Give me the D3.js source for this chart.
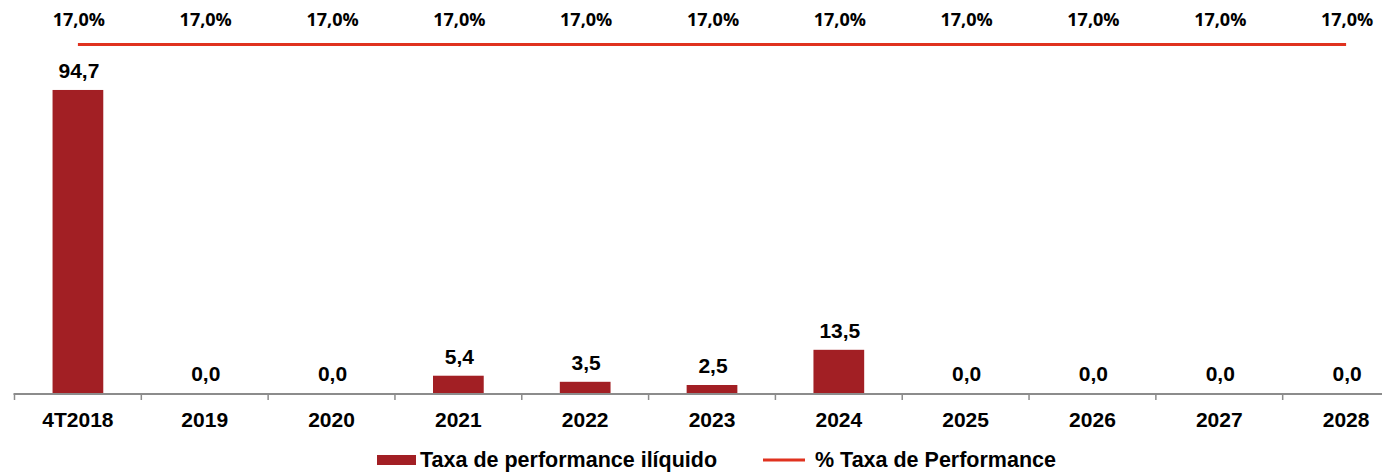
<!DOCTYPE html>
<html>
<head>
<meta charset="utf-8">
<script src="https://cdn.jsdelivr.net/npm/d3@7"></script>
<style>
  body { margin: 0; background: #fff; }
  svg { display: block; }
  text { font-family: "Liberation Sans", Arial, sans-serif; font-weight: bold; fill: #000; }
  .pct-label { font-family: "Open Sans", "Liberation Sans", sans-serif; font-weight: 700; }
</style>
</head>
<body>
<div id="chart"></div>
<script>
// chart data
const categories = ['4T2018', '2019', '2020', '2021', '2022', '2023', '2024', '2025', '2026', '2027', '2028'];
const feeValues = [94.7, 0.0, 0.0, 5.4, 3.5, 2.5, 13.5, 0.0, 0.0, 0.0, 0.0];
const feeRate = [17.0, 17.0, 17.0, 17.0, 17.0, 17.0, 17.0, 17.0, 17.0, 17.0, 17.0];
const legendLabels = ['Taxa de performance ilíquido', '% Taxa de Performance'];

const width = 1382, height = 474;
const baseline = 393;
const barColor = '#a21f24';
const lineColor = '#e0321f';

const fmt = v => v.toFixed(1).replace('.', ',');

const svg = d3.select('#chart').append('svg')
  .attr('width', width)
  .attr('height', height);

// scales (the last band runs past the right edge, like the original)
const xScale = d3.scaleBand()
  .domain(categories)
  .range([14.5, 1409.5])
  .paddingInner(0.6)
  .paddingOuter(0.3);

const yScale = d3.scaleLinear()
  .domain([0, 100])
  .range([baseline, 73]);

// secondary axis for the percentage line
const y2Scale = d3.scaleLinear()
  .domain([0, 17.9])
  .range([baseline, 26]);

const step = xScale.step();
const center = d => xScale(d) + xScale.bandwidth() / 2;

// bars
svg.selectAll('.bar')
  .data(categories)
  .join('rect')
  .attr('class', 'bar')
  .attr('x', d => xScale(d))
  .attr('width', xScale.bandwidth())
  .attr('y', (d, i) => yScale(feeValues[i]))
  .attr('height', (d, i) => baseline - yScale(feeValues[i]))
  .attr('fill', barColor);

// bar labels
svg.selectAll('.bar-label')
  .data(categories)
  .join('text')
  .attr('class', 'bar-label')
  .attr('x', d => center(d) + 1)
  .attr('y', (d, i) => yScale(feeValues[i]) - 12)
  .attr('text-anchor', 'middle')
  .style('font-size', '21px')
  .text((d, i) => fmt(feeValues[i]));

// x axis line + ticks at band boundaries
svg.append('line')
  .attr('x1', xScale.range()[0] - 1)
  .attr('x2', width)
  .attr('y1', baseline + 1)
  .attr('y2', baseline + 1)
  .attr('stroke', '#8c8c8c')
  .attr('stroke-width', 2);

svg.selectAll('.tick-mark')
  .data(categories)
  .join('line')
  .attr('class', 'tick-mark')
  .attr('x1', d => center(d) - step / 2)
  .attr('x2', d => center(d) - step / 2)
  .attr('y1', baseline + 1)
  .attr('y2', baseline + 7)
  .attr('stroke', '#8c8c8c')
  .attr('stroke-width', 1.5);

svg.selectAll('.x-label')
  .data(categories)
  .join('text')
  .attr('class', 'x-label')
  .attr('x', d => center(d))
  .attr('y', 427)
  .attr('text-anchor', 'middle')
  .style('font-size', '21px')
  .text(d => d);

// percentage line
const line = d3.line()
  .x(d => center(d))
  .y((d, i) => y2Scale(feeRate[i]));

svg.append('path')
  .datum(categories)
  .attr('d', line)
  .attr('fill', 'none')
  .attr('stroke', lineColor)
  .attr('stroke-width', 3);

svg.selectAll('.pct-label')
  .data(categories)
  .join('text')
  .attr('class', 'pct-label')
  .attr('x', d => center(d) + 1)
  .attr('y', (d, i) => y2Scale(feeRate[i]) - 18)
  .attr('text-anchor', 'middle')
  .style('font-size', '18px')
  .text((d, i) => fmt(feeRate[i]) + '%');

// legend
const legend = svg.append('g');
legend.append('rect')
  .attr('x', 377)
  .attr('y', 455)
  .attr('width', 39)
  .attr('height', 10)
  .attr('fill', barColor);
legend.append('text')
  .attr('x', 420)
  .attr('y', 467)
  .style('font-size', '21.5px')
  .text(legendLabels[0]);
legend.append('line')
  .attr('x1', 763)
  .attr('x2', 805)
  .attr('y1', 460)
  .attr('y2', 460)
  .attr('stroke', lineColor)
  .attr('stroke-width', 3);
legend.append('text')
  .attr('x', 815)
  .attr('y', 467)
  .style('font-size', '21.5px')
  .text(legendLabels[1]);
</script>
</body>
</html>
